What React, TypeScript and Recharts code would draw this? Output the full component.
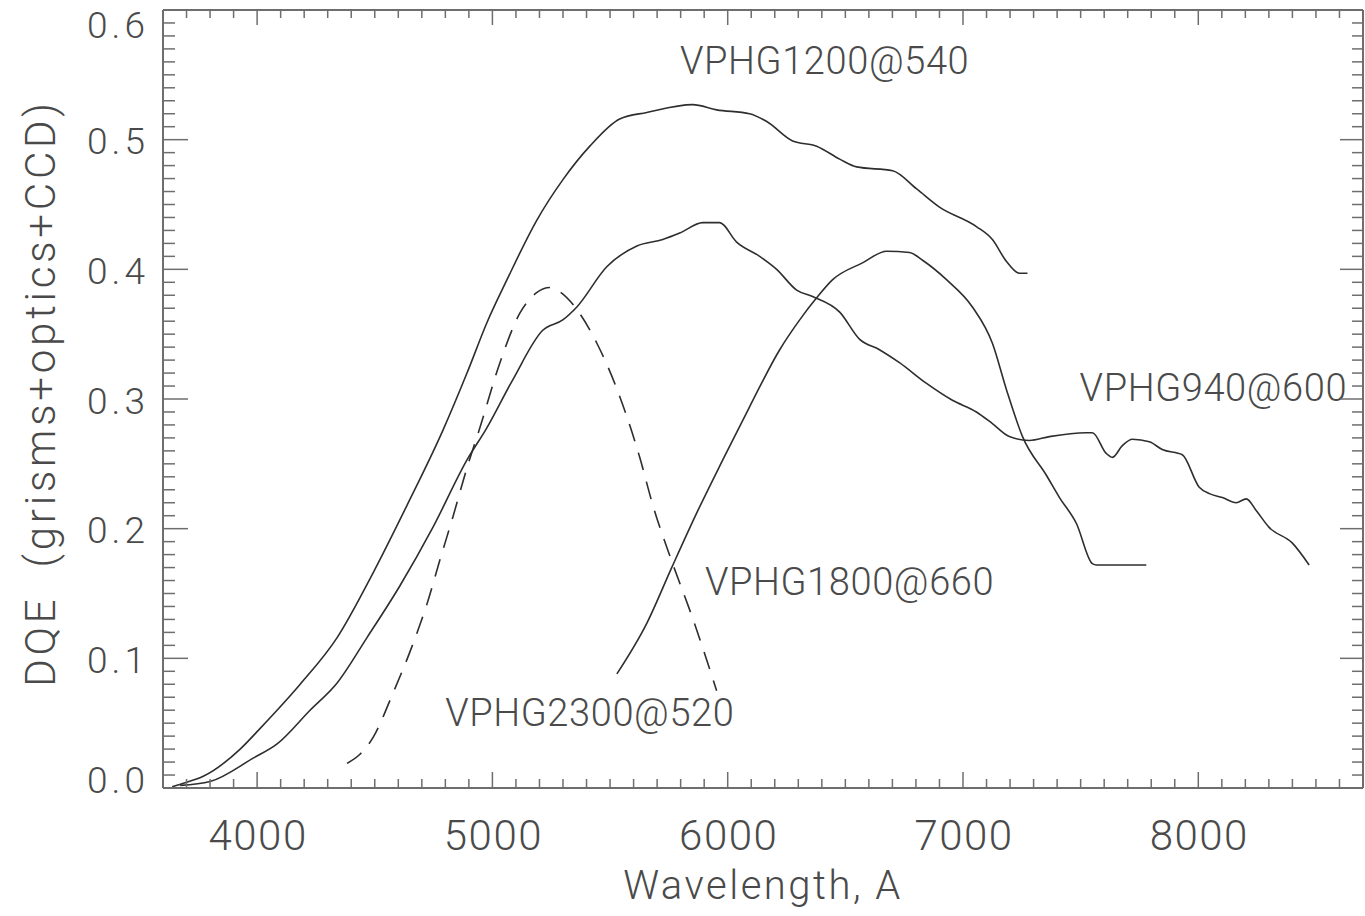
import React from 'react';
import { LineChart, Line, XAxis, YAxis, ReferenceDot, Label } from 'recharts';

const FONT = 'Roboto, "Liberation Sans", sans-serif';
const TEXT_COLOR = '#4a4a4a';
const AXIS_COLOR = '#6e6e6e';
const LINE_COLOR = '#2e2e2e';

// Axis settings
const xDomain = [3600, 8700];
const xMajorTicks = [4000, 5000, 6000, 7000, 8000];
const xMinorStep = 100;
const yDomain = [0, 0.6];
const yMajorTicks = [0.0, 0.1, 0.2, 0.3, 0.4, 0.5, 0.6];
const yMinorStep = 0.01;

// VPHG1200@540
const vphg1200Wave = [3639, 3694, 3771, 3928, 4013, 4183, 4340, 4493, 4637, 4790, 4892, 4977, 5062, 5189, 5299, 5414, 5541, 5656, 5851, 5953, 6093, 6166, 6276, 6378, 6476, 6548, 6701, 6803, 6900, 7057, 7125, 7185, 7240, 7274];
const vphg1200Dqe = [0.001, 0.004, 0.009, 0.030, 0.046, 0.080, 0.116, 0.166, 0.218, 0.276, 0.320, 0.359, 0.392, 0.438, 0.469, 0.495, 0.516, 0.521, 0.527, 0.523, 0.520, 0.514, 0.499, 0.495, 0.485, 0.479, 0.476, 0.462, 0.448, 0.433, 0.423, 0.406, 0.397, 0.397];

// VPHG940@600
const vphg940Wave = [3673, 3800, 3983, 4085, 4225, 4340, 4467, 4607, 4747, 4892, 4977, 5087, 5214, 5299, 5359, 5486, 5614, 5724, 5796, 5894, 5966, 6038, 6136, 6208, 6293, 6361, 6476, 6561, 6645, 6730, 6845, 6955, 7057, 7125, 7197, 7282, 7367, 7524, 7550, 7609, 7635, 7677, 7720, 7792, 7847, 7932, 8004, 8047, 8102, 8161, 8204, 8246, 8301, 8399, 8471];
const vphg940Dqe = [0.002, 0.005, 0.023, 0.034, 0.060, 0.081, 0.116, 0.156, 0.201, 0.253, 0.278, 0.315, 0.353, 0.361, 0.371, 0.402, 0.418, 0.423, 0.428, 0.436, 0.436, 0.421, 0.410, 0.400, 0.384, 0.379, 0.367, 0.346, 0.338, 0.328, 0.312, 0.299, 0.290, 0.281, 0.271, 0.268, 0.271, 0.274, 0.274, 0.258, 0.255, 0.264, 0.269, 0.267, 0.261, 0.257, 0.232, 0.227, 0.224, 0.220, 0.223, 0.214, 0.201, 0.189, 0.172];

// VPHG1800@660
const vphg1800Wave = [5529, 5656, 5762, 5868, 5979, 6093, 6221, 6306, 6378, 6446, 6573, 6675, 6773, 6828, 6930, 7040, 7125, 7185, 7253, 7355, 7410, 7482, 7550, 7567, 7779];
const vphg1800Dqe = [0.088, 0.127, 0.170, 0.212, 0.253, 0.294, 0.338, 0.361, 0.378, 0.392, 0.405, 0.414, 0.413, 0.407, 0.392, 0.371, 0.343, 0.307, 0.271, 0.241, 0.224, 0.204, 0.173, 0.172, 0.172];

// VPHG2300@520 (dashed)
const vphg2300Wave = [4382, 4437, 4493, 4577, 4662, 4722, 4777, 4832, 4892, 4947, 5032, 5116, 5188, 5244, 5274, 5359, 5444, 5541, 5626, 5682, 5766, 5851, 5953];
const vphg2300Dqe = [0.019, 0.026, 0.039, 0.073, 0.111, 0.142, 0.176, 0.209, 0.247, 0.278, 0.328, 0.366, 0.382, 0.386, 0.384, 0.369, 0.343, 0.302, 0.255, 0.218, 0.173, 0.131, 0.075];

// Curve labels
const labelTexts = ['VPHG1200@540', 'VPHG940@600', 'VPHG1800@660', 'VPHG2300@520'];
const labelWave = [6412, 8064, 6518, 5414];
const labelDqe = [0.561, 0.3085, 0.159, 0.058];

const toPoints = (xs: number[], ys: number[]) => xs.map((x, i) => ({ x, y: ys[i] }));

const series1200 = toPoints(vphg1200Wave, vphg1200Dqe);
const series940 = toPoints(vphg940Wave, vphg940Dqe);
const series1800 = toPoints(vphg1800Wave, vphg1800Dqe);
const series2300 = toPoints(vphg2300Wave, vphg2300Dqe);

const xTicks: number[] = [];
for (let v = xDomain[0]; v <= xDomain[1]; v += xMinorStep) xTicks.push(v);
const yTicks: number[] = [];
for (let i = 0; i <= Math.round(yDomain[1] / yMinorStep); i++) yTicks.push(Math.round(i) / 100);

const isXMajor = (v: number) => xMajorTicks.includes(v);
const isYMajor = (v: number) => yMajorTicks.some((m) => Math.abs(m - v) < 1e-9);

const renderBottomTick = (props: any) => {
  const { x, y, payload, index } = props;
  const major = isXMajor(payload.value);
  return (
    <g key={`b-${index}`}>
      <path d={`M${x},${y}L${x},${y - (major ? 16 : 9)}`} stroke={AXIS_COLOR} strokeWidth={1.5} fill="none" />
      {major && (
        <text x={x + 1} y={y + 47} textAnchor="middle" dominantBaseline="central" fill={TEXT_COLOR} stroke="none"
          fontFamily={FONT} fontWeight={300} fontSize={42} letterSpacing={1.5}>
          {payload.value}
        </text>
      )}
    </g>
  );
};

const renderTopTick = (props: any) => {
  const { x, y, payload, index } = props;
  const major = isXMajor(payload.value);
  return (
    <g key={`t-${index}`}>
      <path d={`M${x},${y}L${x},${y + (major ? 15 : 8)}`} stroke={AXIS_COLOR} strokeWidth={1.5} fill="none" />
    </g>
  );
};

const renderLeftTick = (props: any) => {
  const { x, y, payload, index } = props;
  const v = payload.value;
  const major = isYMajor(v);
  let shift = 2;
  if (Math.abs(v) < 1e-9) shift = -8;
  if (Math.abs(v - 0.6) < 1e-9) shift = 15;
  return (
    <g key={`l-${index}`}>
      <path d={`M${x},${y}L${x + (major ? 25 : 12)},${y}`} stroke={AXIS_COLOR} strokeWidth={1.5} fill="none" />
      {major && (
        <text x={x - 14} y={y + shift} textAnchor="end" dominantBaseline="central" fill={TEXT_COLOR} stroke="none"
          fontFamily={FONT} fontWeight={300} fontSize={37} letterSpacing={4}>
          {v.toFixed(1)}
        </text>
      )}
    </g>
  );
};

const renderRightTick = (props: any) => {
  const { x, y, payload, index } = props;
  const major = isYMajor(payload.value);
  return (
    <g key={`r-${index}`}>
      <path d={`M${x},${y}L${x - (major ? 23 : 11)},${y}`} stroke={AXIS_COLOR} strokeWidth={1.5} fill="none" />
    </g>
  );
};

const XTitle = (props: any) => {
  const vb = props.viewBox;
  return (
    <text x={vb.x + vb.width / 2} y={vb.y + 97} textAnchor="middle" dominantBaseline="central" fill={TEXT_COLOR}
      fontFamily={FONT} fontWeight={300} fontSize={40} letterSpacing={2.5}>
      Wavelength, A
    </text>
  );
};

const YTitle = (props: any) => {
  const vb = props.viewBox;
  const cx = vb.x + 40;
  const cy = vb.y + vb.height / 2 - 6;
  return (
    <text x={cx} y={cy} transform={`rotate(-90 ${cx} ${cy})`} textAnchor="middle" dominantBaseline="central"
      fill={TEXT_COLOR} fontFamily={FONT} fontWeight={300} fontSize={42} letterSpacing={3.8} xmlSpace="preserve">
      {'DQE  (grisms+optics+CCD)'}
    </text>
  );
};

const CurveLabel = (text: string) => (props: any) => {
  const vb = props.viewBox;
  const cx = vb.x + vb.width / 2;
  const cy = vb.y + vb.height / 2;
  return (
    <text x={cx} y={cy} textAnchor="middle" dominantBaseline="central" fill={TEXT_COLOR}
      fontFamily={FONT} fontWeight={300} fontSize={38} letterSpacing={0.6}>
      {text}
    </text>
  );
};

export default function App() {
  return (
    <div style={{ position: 'absolute', left: 0, top: 0, width: 1365, height: 916, background: '#fff' }}>
      <LineChart width={1365} height={916} margin={{ top: 0, right: 0, bottom: 0, left: 0 }}>
        <XAxis xAxisId={0} dataKey="x" type="number" domain={xDomain} allowDataOverflow ticks={xTicks} interval={0}
          orientation="bottom" height={128} tickSize={0} tickMargin={0} tick={renderBottomTick}
          axisLine={{ stroke: AXIS_COLOR, strokeWidth: 2 }} tickLine={false}>
          <Label content={<XTitle />} />
        </XAxis>
        <XAxis xAxisId="top" dataKey="x" type="number" domain={xDomain} allowDataOverflow ticks={xTicks} interval={0}
          orientation="top" height={10} tickSize={0} tickMargin={0} tick={renderTopTick}
          axisLine={{ stroke: AXIS_COLOR, strokeWidth: 2 }} tickLine={false} />
        <YAxis yAxisId={0} type="number" domain={yDomain} allowDataOverflow ticks={yTicks} interval={0}
          orientation="left" width={163} tickSize={0} tickMargin={0} tick={renderLeftTick}
          axisLine={{ stroke: AXIS_COLOR, strokeWidth: 2 }} tickLine={false}>
          <Label content={<YTitle />} />
        </YAxis>
        <YAxis yAxisId="right" type="number" domain={yDomain} allowDataOverflow ticks={yTicks} interval={0}
          orientation="right" width={2} tickSize={0} tickMargin={0} tick={renderRightTick}
          axisLine={{ stroke: AXIS_COLOR, strokeWidth: 2 }} tickLine={false} />

        <Line data={series1200} dataKey="y" type="monotone" stroke={LINE_COLOR} strokeWidth={1.6} dot={false} isAnimationActive={false} />
        <Line data={series940} dataKey="y" type="monotone" stroke={LINE_COLOR} strokeWidth={1.6} dot={false} isAnimationActive={false} />
        <Line data={series1800} dataKey="y" type="monotone" stroke={LINE_COLOR} strokeWidth={1.6} dot={false} isAnimationActive={false} />
        <Line data={series2300} dataKey="y" type="monotone" stroke={LINE_COLOR} strokeWidth={1.6} strokeDasharray="18 12" dot={false} isAnimationActive={false} />

        {labelTexts.map((t, i) => (
          <ReferenceDot key={t} x={labelWave[i]} y={labelDqe[i]} r={0} fill="none" stroke="none" label={CurveLabel(t)} />
        ))}
      </LineChart>
    </div>
  );
}
